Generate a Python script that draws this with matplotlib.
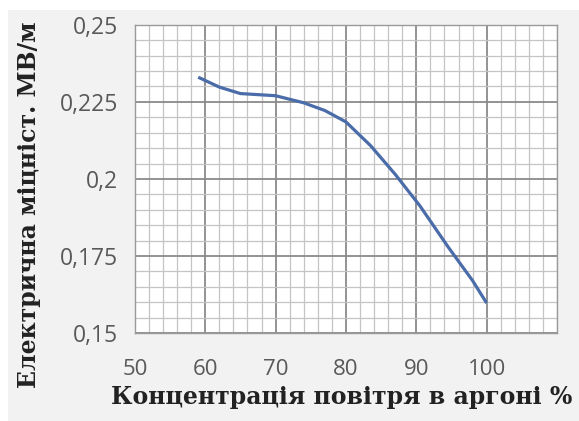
import numpy as np
import matplotlib.pyplot as plt
from matplotlib.patches import Rectangle
from matplotlib.ticker import MultipleLocator

# air concentration in argon, %
conc = [59, 62, 65, 70, 74, 77, 80, 83.5, 87, 90.5, 94.5, 98, 100]
# electric strength, MV/m
strength = [0.233, 0.2298, 0.2277, 0.227, 0.2247, 0.2222, 0.2185,
            0.2108, 0.2015, 0.1913, 0.178, 0.167, 0.1597]

x_ticks = [50, 60, 70, 80, 90, 100]
y_ticks = [0.15, 0.175, 0.2, 0.225, 0.25]
y_tick_labels = ['0,15', '0,175', '0,2', '0,225', '0,25']

fig = plt.figure(figsize=(5.79, 4.21), dpi=100, facecolor='white')
# light gray panel behind the chart
fig.patches.append(Rectangle((8 / 579, 0), 1, 1 - 10 / 421, transform=fig.transFigure,
                             facecolor='#f2f2f2', edgecolor='none', zorder=-10))
ax = fig.add_axes([0.233, 0.209, 0.729, 0.732])
ax.set_facecolor('white')

ax.plot(conc, strength, color='#4a6ca8', lw=2.3, solid_capstyle='butt')

ax.set_xlim(50, 110)
ax.set_ylim(0.15, 0.25)
ax.set_xticks(x_ticks)
ax.set_yticks(y_ticks)
ax.set_yticklabels(y_tick_labels)
ax.xaxis.set_minor_locator(MultipleLocator(2))
ax.yaxis.set_minor_locator(MultipleLocator(0.005))

ax.grid(which='major', color='#8a8a8a', lw=1.3)
ax.grid(which='minor', color='#c4c4c4', lw=0.9)
ax.set_axisbelow(True)
for s in ax.spines.values():
    s.set_color('#9a9a9a')
    s.set_linewidth(1.0)

ax.tick_params(which='both', length=0)
ax.tick_params(axis='x', pad=19, labelsize=16, labelcolor='#595959')
ax.tick_params(axis='y', pad=12, labelsize=16.5, labelcolor='#595959')
for lab in ax.get_xticklabels() + ax.get_yticklabels():
    lab.set_fontfamily('Open Sans')

ax.set_xlabel('Концентрація повітря в аргоні %', fontfamily='DejaVu Serif',
              fontweight='bold', fontsize=17, color='#222222')
ax.xaxis.set_label_coords(0.49, -0.207, transform=ax.transAxes)
ax.xaxis.label.set_va('center')
ax.set_ylabel('Електрична міцніст. МВ/м', fontfamily='DejaVu Serif',
              fontweight='bold', fontsize=17, color='#222222')
ax.yaxis.set_label_coords(-0.25, 0.415, transform=ax.transAxes)
ax.yaxis.label.set_va('center')

fig.savefig('out.png', dpi=100, facecolor=fig.get_facecolor())
